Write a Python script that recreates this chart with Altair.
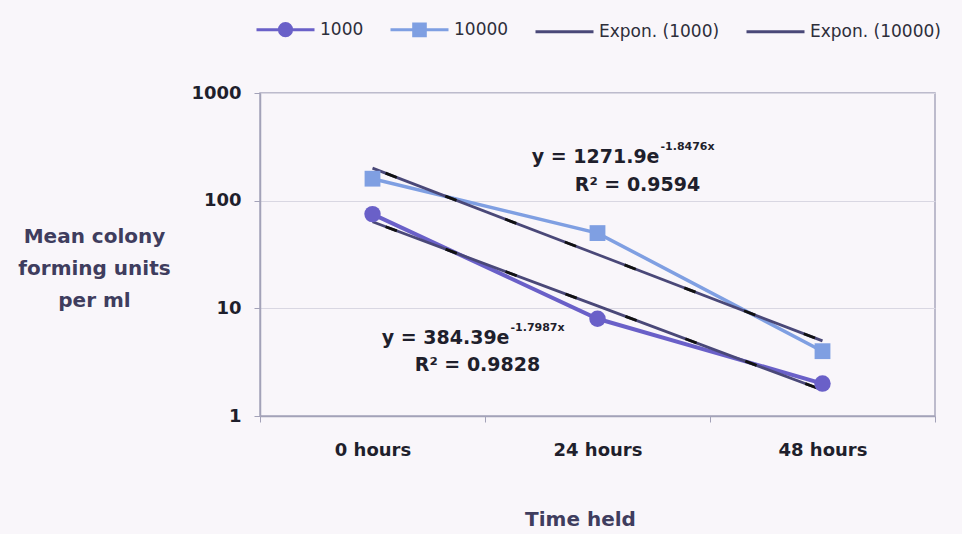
import altair as alt
import numpy as np
import pandas as pd

# Sampling times (category axis)
times = ["0 hours", "24 hours", "48 hours"]

# Mean colony forming units per ml for each starting inoculum
cfu_1000 = [75, 8, 2]
cfu_10000 = [160, 50, 4]

# Excel exponential trendline coefficients: y = a * exp(b * x), x = 1, 2, 3
trend_a = {"1000": 384.39, "10000": 1271.9}
trend_b = {"1000": -1.7987, "10000": -1.8476}
trend_r2 = {"1000": 0.9828, "10000": 0.9594}

series_names = ["1000", "10000", "Expon. (1000)", "Expon. (10000)"]
series_colors = ["#6a60c8", "#7f9fe2", "#4a4878", "#4a4878"]

measured = pd.concat([
    pd.DataFrame({"time": times, "cfu": cfu_1000, "series": "1000"}),
    pd.DataFrame({"time": times, "cfu": cfu_10000, "series": "10000"}),
])

xs = np.arange(1, len(times) + 1)
trend = pd.concat([
    pd.DataFrame({"time": times,
                  "cfu": trend_a[k] * np.exp(trend_b[k] * xs),
                  "series": f"Expon. ({k})"})
    for k in ["1000", "10000"]
])

# Symbols shown in the legend: a line with the series marker in its middle
legend_shapes = [
    "M-1,0H1M-0.21,0A0.21,0.21,0,1,1,0.21,0A0.21,0.21,0,1,1,-0.21,0Z",
    "M-1,0H1M-0.2,-0.2H0.2V0.2H-0.2Z",
    "M-1,0H1",
    "M-1,0H1",
]

FONT = "DejaVu Sans"
TEXT_DARK = "#1f1f2c"
TITLE_COL = "#3f3d5e"

x_enc = alt.X(
    "time:N", sort=times,
    scale=alt.Scale(domain=times, paddingInner=0, paddingOuter=0),
    axis=alt.Axis(
        title="Time held", tickBand="extent", labelAngle=0,
        titleX=320, titleY=103, titleAlign="center", titleBaseline="middle",
    ),
)
y_enc = alt.Y(
    "cfu:Q",
    scale=alt.Scale(type="log", domain=[1, 1000]),
    axis=alt.Axis(
        values=[1, 10, 100, 1000], format="d",
        title=["Mean colony", "forming units", "per ml"],
        titleAngle=0, titleAlign="center", titleBaseline="top",
        titleX=-166, titleY=133, titleLineHeight=32,
    ),
)

base_m = alt.Chart(measured)
base_t = alt.Chart(trend)

line_1000 = base_m.transform_filter("datum.series == '1000'").mark_line(
    color=series_colors[0], strokeWidth=4).encode(x=x_enc, y=y_enc)
line_10000 = base_m.transform_filter("datum.series == '10000'").mark_line(
    color=series_colors[1], strokeWidth=3.5).encode(x=x_enc, y=y_enc)

trend_lines = base_t.mark_line(color=series_colors[2], strokeWidth=2.8).encode(
    x=x_enc, y=y_enc, detail="series:N")
trend_dash = base_t.mark_line(color="#111111", strokeWidth=2.8,
                              strokeDash=[12, 52], strokeDashOffset=-14).encode(
    x=x_enc, y=y_enc, detail="series:N")

pts_1000 = base_m.transform_filter("datum.series == '1000'").mark_point(
    shape="circle", filled=True, size=270, opacity=1, color=series_colors[0]
).encode(x=x_enc, y=y_enc)
pts_10000 = base_m.transform_filter("datum.series == '10000'").mark_point(
    shape="square", filled=True, size=250, opacity=1, color=series_colors[1]
).encode(x=x_enc, y=y_enc)

# Legend carrier: no rows survive the filter, the legend is built from the domain
legend_layer = alt.Chart(measured).transform_filter("datum.series == 'none'").mark_point(
    filled=True, opacity=1
).encode(
    x=x_enc, y=y_enc,
    fill=alt.Fill("series:N", scale=alt.Scale(domain=series_names, range=series_colors),
                  legend=alt.Legend(
                      orient="none", legendX=-5, legendY=-94, direction="horizontal",
                      columns=4, title=None, padding=0, columnPadding=20,
                      symbolSize=3364, symbolStrokeWidth=3, labelOffset=4,
                      labelFont=FONT, labelFontSize=17, labelColor="#2e2e3a",
                  )),
    stroke=alt.Stroke("series:N", scale=alt.Scale(domain=series_names, range=series_colors)),
    shape=alt.Shape("series:N", scale=alt.Scale(domain=series_names, range=legend_shapes)),
)

anchor = pd.DataFrame({"k": [0]})

# Trendline equation labels
def eq_text(cat, yv, dx, text, size=19, align="right", dy=0):
    return alt.Chart(anchor).mark_text(
        text=text, font=FONT, fontWeight="bold", fontSize=size, color=TEXT_DARK,
        align=align, baseline="middle", dx=dx, dy=dy,
    ).encode(x=alt.X(datum=cat, type="nominal"), y=alt.Y(datum=yv, type="quantitative"))

def fmt_eq(k):
    return f"y = {trend_a[k]}e", f"{trend_b[k]}x", f"R² = {trend_r2[k]}"

m10k, s10k, r10k = fmt_eq("10000")
m1k, s1k, r1k = fmt_eq("1000")

annotations = [
    eq_text("24 hours", 254, 62, m10k),
    eq_text("24 hours", 254, 63, s10k, size=11, align="left", dy=-10),
    eq_text("24 hours", 139, 40, r10k, align="center"),
    eq_text("24 hours", 5.3, -88, m1k),
    eq_text("24 hours", 5.3, -87, s1k, size=11, align="left", dy=-10),
    eq_text("24 hours", 2.95, -120, r1k, align="center"),
]

chart = alt.layer(
    line_1000, line_10000, trend_lines, trend_dash, pts_1000, pts_10000,
    legend_layer, *annotations,
).properties(
    width=675, height=323,
    background="#f9f6fa",
    autosize=alt.AutoSizeParams(type="none"),
    padding={"left": 260, "top": 93, "right": 27, "bottom": 118},
).configure_view(
    stroke="#a9a8bd", strokeWidth=1.5,
).configure_axis(
    labelFont=FONT, labelFontWeight="bold", labelFontSize=18, labelColor=TEXT_DARK,
    titleFont=FONT, titleFontWeight="bold", titleFontSize=20, titleColor=TITLE_COL,
    domainColor="#a3a2b8", domainWidth=1.5, tickColor="#a3a2b8", tickSize=6,
    gridColor="#d9d7e2", gridWidth=1,
).configure_axisY(
    labelPadding=13, grid=True,
).configure_axisX(
    labelPadding=19, grid=False,
)

chart.save("out.html", embed_options={"renderer": "svg", "actions": False})
